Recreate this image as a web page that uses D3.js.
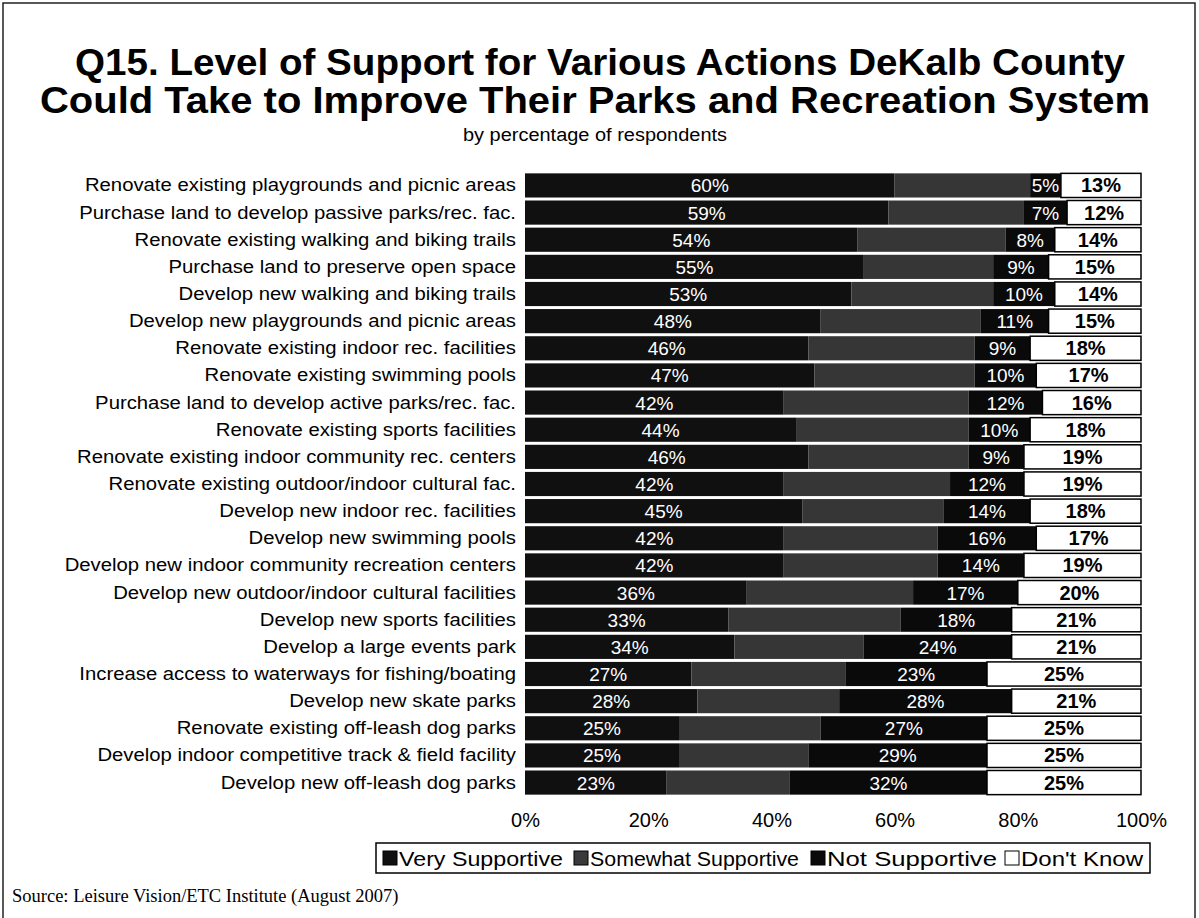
<!DOCTYPE html>
<html><head><meta charset="utf-8">
<script src="https://cdn.jsdelivr.net/npm/d3@7"></script>
<style>body{margin:0;background:#fff;} svg{display:block;}</style>
</head><body>
<script>
const categories = [
"Renovate existing playgrounds and picnic areas",
"Purchase land to develop passive parks/rec. fac.",
"Renovate existing walking and biking trails",
"Purchase land to preserve open space",
"Develop new walking and biking trails",
"Develop new playgrounds and picnic areas",
"Renovate existing indoor rec. facilities",
"Renovate existing swimming pools",
"Purchase land to develop active parks/rec. fac.",
"Renovate existing sports facilities",
"Renovate existing indoor community rec. centers",
"Renovate existing outdoor/indoor cultural fac.",
"Develop new indoor rec. facilities",
"Develop new swimming pools",
"Develop new indoor community recreation centers",
"Develop new outdoor/indoor cultural facilities",
"Develop new sports facilities",
"Develop a large events park",
"Increase access to waterways for fishing/boating",
"Develop new skate parks",
"Renovate existing off-leash dog parks",
"Develop indoor competitive track & field facility",
"Develop new off-leash dog parks"];
const verySupportive     = [60,59,54,55,53,48,46,47,42,44,46,42,45,42,42,36,33,34,27,28,25,25,23];
const somewhatSupportive = [22,22,24,21,23,26,27,26,30,28,26,27,23,25,25,27,28,21,25,23,23,21,20];
const notSupportive      = [5,7,8,9,10,11,9,10,12,10,9,12,14,16,14,17,18,24,23,28,27,29,32];
const dontKnow           = [13,12,14,15,14,15,18,17,16,18,19,19,18,17,19,20,21,21,25,21,25,25,25];
const seriesNames = ["Very Supportive","Somewhat Supportive","Not Supportive","Don't Know"];
const tickValues = [0,20,40,60,80,100];

const W=1199,H=918;
const svg=d3.select("body").append("svg").attr("width",W).attr("height",H);
svg.append("rect").attr("x",3).attr("y",3).attr("width",1192).attr("height",940)
  .attr("fill","#fff").attr("stroke","#222").attr("stroke-width",1.5);

const font="Liberation Sans, Arial, sans-serif";
function fitText(sel, len){ sel.attr("textLength",len).attr("lengthAdjust","spacingAndGlyphs"); return sel; }

fitText(svg.append("text").attr("x",600).attr("y",75).attr("text-anchor","middle")
  .attr("font-family",font).attr("font-weight","bold").attr("font-size",36)
  .text("Q15. Level of Support for Various Actions DeKalb County"),1050);
fitText(svg.append("text").attr("x",595).attr("y",113).attr("text-anchor","middle")
  .attr("font-family",font).attr("font-weight","bold").attr("font-size",36)
  .text("Could Take to Improve Their Parks and Recreation System"),1110);
fitText(svg.append("text").attr("x",595).attr("y",141).attr("text-anchor","middle")
  .attr("font-family",font).attr("font-size",18)
  .text("by percentage of respondents"),264);

const x=d3.scaleLinear().domain([0,100]).range([525,1141]);
const y=d3.scaleBand().domain(categories).range([172,796]).paddingInner(0.11).paddingOuter(0.05);

const rows=categories.map((c,i)=>({cat:c, v:[verySupportive[i],somewhatSupportive[i],notSupportive[i],dontKnow[i]]}));
const fills=["#101010","#363636","#0a0a0a","#ffffff"];

rows.forEach(r=>{
  let acc=0;
  const g=svg.append("g");
  r.v.forEach((val,k)=>{
    const x0=x(acc), x1=x(acc+val);
    g.append("rect").attr("x",x0).attr("y",y(r.cat)).attr("width",x1-x0).attr("height",y.bandwidth())
      .attr("fill",fills[k]).attr("stroke",k===3?"#000":"none").attr("stroke-width",k===3?1.5:0);
    if(k!==1){
      g.append("text").attr("x",(x0+x1)/2).attr("y",y(r.cat)+y.bandwidth()/2+7)
        .attr("text-anchor","middle").attr("font-family",font)
        .attr("font-size",k===3?20:19).attr("font-weight",k===3?"bold":"normal")
        .attr("fill",k===3?"#000":"#fff").text(val+"%");
    }
    acc+=val;
  });
  const t=svg.append("text").attr("x",516).attr("y",y(r.cat)+y.bandwidth()/2+6)
    .attr("text-anchor","end").attr("font-family",font).attr("font-size",17.5).attr("fill","#000")
    .text(r.cat);
  fitText(t, t.node().getComputedTextLength()*1.16);
});

const axis=d3.axisBottom(x).tickValues(tickValues).tickFormat(d=>d+"%").tickSize(0).tickPadding(0);
const ax=svg.append("g").attr("transform","translate(0,809)").call(axis);
ax.select(".domain").remove();
ax.selectAll("text").attr("font-family",font).attr("font-size",20).attr("fill","#000").attr("dy","0.9em");

// legend
const lg=svg.append("g");
lg.append("rect").attr("x",376).attr("y",843).attr("width",774).attr("height",30)
  .attr("fill","#fff").attr("stroke","#000").attr("stroke-width",1.5);
const legFills=["#101010","#3a3a3a","#0a0a0a","#ffffff"];
const legSquareX=[383,574,811,1005];
const legTextLen=[164,209,170,122];
seriesNames.forEach((n,k)=>{
  const lx=legSquareX[k];
  lg.append("rect").attr("x",lx).attr("y",851).attr("width",14).attr("height",14)
    .attr("fill",legFills[k]).attr("stroke","#000").attr("stroke-width",1);
  fitText(lg.append("text").attr("x",lx+16).attr("y",866).attr("font-family",font).attr("font-size",20)
    .attr("fill","#000").text(n), legTextLen[k]);
});

svg.append("text").attr("x",12).attr("y",902).attr("font-family","Liberation Serif, Times New Roman, serif")
  .attr("font-size",18.5).attr("fill","#000").text("Source:  Leisure Vision/ETC Institute (August 2007)");
</script>
</body></html>
